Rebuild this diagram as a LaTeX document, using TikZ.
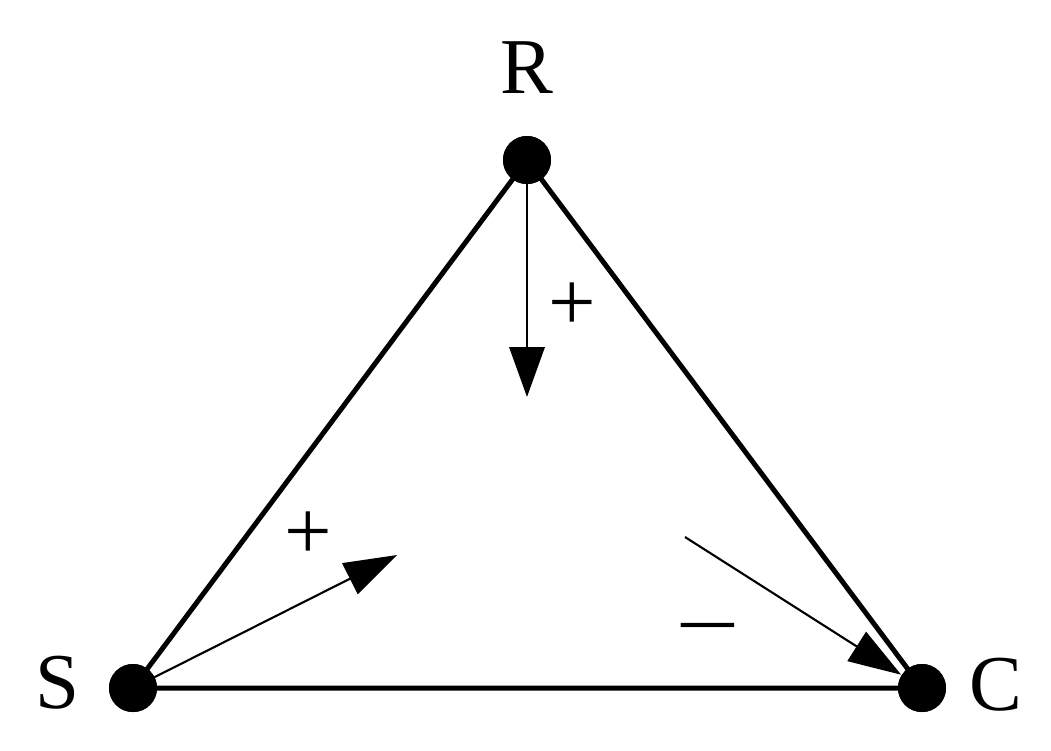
\documentclass[tikz,border=0pt]{standalone}
\usepackage{fontspec}
\setmainfont{Liberation Serif}
\usetikzlibrary{arrows.meta}
\begin{document}
\begin{tikzpicture}[x=0.01cm,y=-0.01cm,
  dot/.style={circle,fill=black,inner sep=0pt,minimum size=0.48cm},
  edge/.style={line width=1.42pt},
  infl/.style={line width=0.6pt,-{Triangle[length=15pt,width=9.8pt]}},
  lbl/.style={font=\fontsize{22.5}{26}\selectfont,inner sep=0pt},
  sgn/.style={font=\fontsize{24}{28}\selectfont,inner sep=0pt}]
\useasboundingbox (0,0) rectangle (1051,750);
\node[dot] (R) at (527,160) {};
\node[dot] (S) at (133,688) {};
\node[dot] (C) at (922,688) {};
\node[lbl] (Rl) at (527,68) {R};
\node[lbl] (Sl) at (58,683) {S};
\node[lbl] (Cl) at (996,685) {C};
\draw[edge] (R.center) -- (S.center) -- (C.center) -- cycle;
\node[dot] at (R) {};
\node[dot] at (S) {};
\node[dot] at (C) {};
\coordinate (rt) at (527,397);
\coordinate (st) at (397,555);
\coordinate (c0) at (685,537);
\draw[infl,line width=0.85pt,-{Triangle[length=14.2pt,width=10pt]}] (R.center) -- (rt);
\draw[infl] (S.center) -- (st);
\draw[infl] (c0) -- (C);
\node[sgn] (p1) at (572,307) {+};
\node[sgn] (p2) at (308,536) {+};
\node[sgn] (m1) at (708,638) {\scalebox{1.36}[1]{−}};
\end{tikzpicture}
\end{document}
